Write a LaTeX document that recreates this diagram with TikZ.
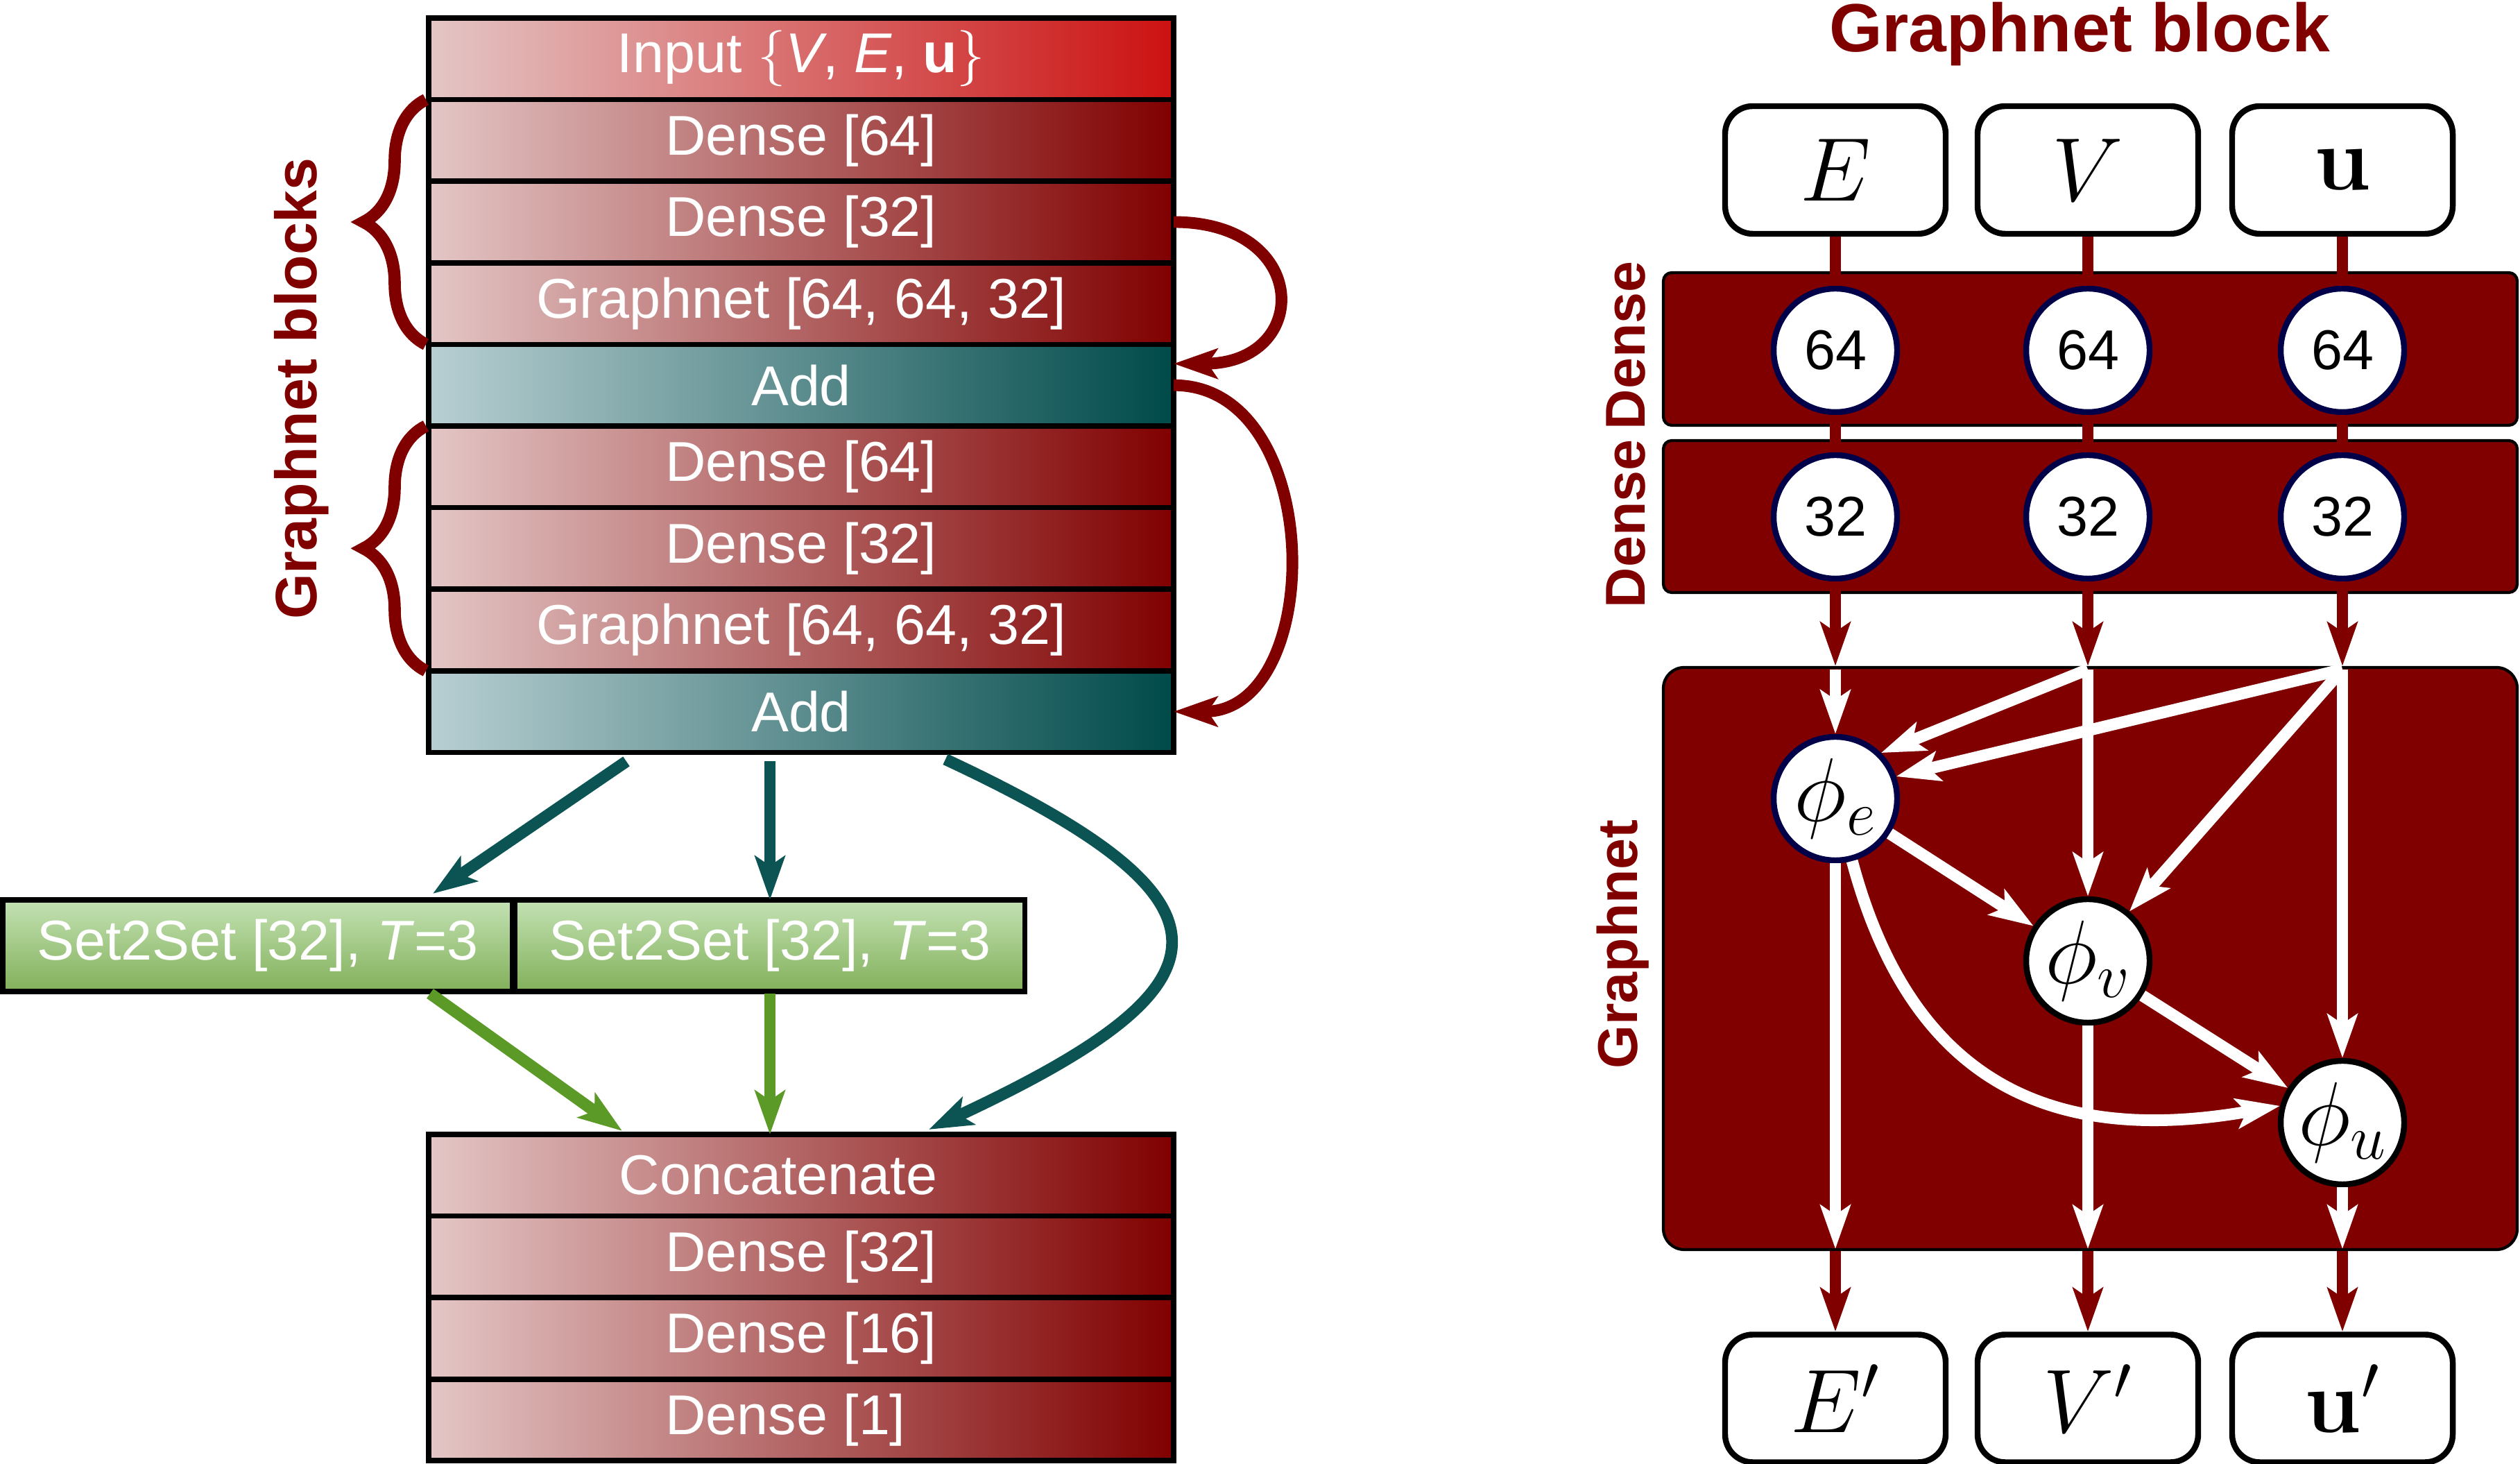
\RequirePackage{fix-cm}
\documentclass[tikz,border=0pt]{standalone}
\usepackage[no-math]{fontspec}
\setmainfont{Liberation Sans}
\usepackage{tikz}
\usetikzlibrary{arrows.meta,decorations.pathreplacing}

\definecolor{gnred}{HTML}{800000}
\definecolor{gnpink}{HTML}{E4C6C6}
\definecolor{gnbright}{HTML}{CC1111}
\definecolor{gnteal}{HTML}{004A4A}
\definecolor{gntealpale}{HTML}{B8CFD2}
\definecolor{gntealline}{HTML}{0C5454}
\definecolor{gngreentop}{HTML}{C4E2B4}
\definecolor{gngreenbot}{HTML}{82B05A}
\definecolor{gngreenline}{HTML}{5B9A26}
\definecolor{gnnavy}{HTML}{000048}

\newcommand{\bodysize}{\fontsize{23}{27}\selectfont}
\newcommand{\mathsize}{\fontsize{37}{44}\selectfont}

\begin{document}
\begin{tikzpicture}[block/.style={draw, rectangle, line width=2.2pt, minimum width=10.74cm, minimum height=1.176cm, inner sep=0pt, outer sep=0pt, text=white, font=\bodysize}]
            \tikzset{redblock/.style = {block, left color=gnpink, right color=gnred}}
            \tikzset{inputblock/.style = {block, left color=gnpink, right color=gnbright}}
            \tikzset{tealblock/.style = {block, left color=gntealpale, right color=gnteal}}
            \tikzset{setblock/.style = {block, minimum width=7.35cm, minimum height=1.32cm, top color=gngreentop, bottom color=gngreenbot}}
            \tikzset{edge/.style = {->,> = {Stealth[length=6.3mm, width=4.3mm, inset=1.4mm]}, line width=4.8pt}}
            \tikzset{skipedge/.style = {edge, draw=gnred}}
            \tikzset{tealedge/.style = {edge, draw=gntealline}}
            \tikzset{greenedge/.style = {edge, draw=gngreenline}}
            \tikzset{redline/.style = {draw=gnred, line width=4.8pt}}
            \tikzset{whiteedge/.style = {edge, draw=white}}
            \tikzset{gbrace/.style = {decorate, decoration={brace, amplitude=0.9cm, raise=0.04cm}, draw=gnred, line width=5pt}}
            \tikzset{panel/.style = {draw, line width=1.2pt, fill=gnred, rounded corners=0.12cm, minimum width=12.31cm, inner sep=0pt}}
            \tikzset{iobox/.style = {draw, rounded corners=0.4cm, line width=2.4pt, fill=white, minimum width=3.18cm, minimum height=1.84cm, font=\mathsize}}
            \tikzset{unit/.style = {circle, draw=gnnavy, line width=2.4pt, fill=white, minimum size=1.78cm, inner sep=0pt, font=\bodysize}}
            \tikzset{phinode/.style = {unit, draw=black, font=\mathsize}}
            \tikzset{sidelabel/.style = {rotate=90, text=gnred, font=\bodysize\bfseries}}

            \useasboundingbox (0,0) rectangle (36.33,21.10);

            % network
            \node[inputblock] (input) at (11.55,20.252) {Input $\{$\textit{V}, \textit{E}, \textbf{u}$\}$};
            \node[redblock] (densea) at (11.55,19.076) {Dense [64]};
            \node[redblock] (denseb) at (11.55,17.900) {Dense [32]};
            \node[redblock] (graphneta) at (11.55,16.724) {Graphnet [64, 64, 32]};
            \node[tealblock] (adda) at (11.55,15.548) {Add};
            \node[redblock] (densec) at (11.55,14.372) {Dense [64]};
            \node[redblock] (densed) at (11.55,13.196) {Dense [32]};
            \node[redblock] (graphnetb) at (11.55,12.020) {Graphnet [64, 64, 32]};
            \node[tealblock] (addb) at (11.55,10.844) {Add};

            \node[setblock] (s2sa) at (3.715,7.47) {Set2Set [32], \textit{T}=3};
            \node[setblock] (s2sb) at (11.10,7.47) {Set2Set [32], \textit{T}=3};

            \node[redblock] (concat) at (11.55,4.1625) {Concatenate\hspace*{0.66cm}};
            \node[redblock] (densee) at (11.55,2.9865) {Dense [32]};
            \node[redblock] (densef) at (11.55,1.8105) {Dense [16]};
            \node[redblock] (denseg) at (11.55,0.6345) {Dense [1]\phantom{6}};

            \draw[gbrace] (graphneta.south west) -- (densea.north west);
            \draw[gbrace] (graphnetb.south west) -- (densec.north west);
            \node[sidelabel, font=\fontsize{24}{28}\selectfont\bfseries] (blockslabel) at (4.35,15.50) {Graphnet blocks};

            \draw[skipedge] (denseb.east) to[out=0, in=0, looseness=2.5] ([yshift=0.31cm]adda.east);
            \draw[skipedge] (adda.east) to[out=0, in=0, looseness=1.2] (addb.east);

            \draw[tealedge] ([xshift=-2.52cm, yshift=-0.13cm]addb.south) -- ([xshift=2.525cm, yshift=0.09cm]s2sa.north);
            \draw[tealedge, shorten <=0.13cm] (s2sb.north |- addb.south) -- (s2sb.north);
            \draw[tealedge] ([xshift=2.08cm, yshift=-0.1cm]addb.south) to[out=-25, in=25, looseness=2.35] ([xshift=1.84cm, yshift=0.07cm]concat.north);

            \draw[greenedge] ([xshift=2.485cm, yshift=-0.03cm]s2sa.south) -- ([xshift=-2.58cm, yshift=0.05cm]concat.north);
            \draw[greenedge, shorten <=0.03cm] (s2sb.south) -- (s2sb.south |- concat.north);

            % graphnet block
            \node[anchor=base, text=gnred, font=\fontsize{28}{32}\selectfont\bfseries] (title) at (29.98,20.35) {Graphnet block};

            \node[iobox] (ein) at (26.46,18.65) {$E$};
            \node[iobox] (vin) at (30.10,18.65) {$V$};
            \node[iobox] (uin) at (33.77,18.65) {$\mathbf{u}$};

            \node[panel, minimum height=2.2cm] (densepa) at (30.135,16.07) {};
            \node[panel, minimum height=2.19cm] (densepb) at (30.135,13.655) {};
            \node[panel, minimum height=8.39cm, rounded corners=0.3cm] (gpanel) at (30.135,7.285) {};

            \node[sidelabel] (densela) at (23.44,16.12) {Dense};
            \node[sidelabel] (denselb) at (23.44,13.55) {Dense};
            \node[sidelabel] (graphlabel) at (23.40,7.49) {Graphnet};

            \node[unit] (e64) at (26.46,16.05) {64};
            \node[unit] (v64) at (30.10,16.05) {64};
            \node[unit] (u64) at (33.77,16.05) {64};
            \node[unit] (e32) at (26.46,13.65) {32};
            \node[unit] (v32) at (30.10,13.65) {32};
            \node[unit] (u32) at (33.77,13.65) {32};

            \node[phinode, draw=gnnavy] (phie) at (26.46,9.59) {$\phi_e$};
            \node[phinode] (phiv) at (30.10,7.25) {$\phi_v$};
            \node[phinode] (phiu) at (33.77,4.92) {$\phi_u$};

            \node[iobox] (eout) at (26.46,0.945) {$E'$};
            \node[iobox] (vout) at (30.10,0.945) {$V'$};
            \node[iobox] (uout) at (33.77,0.945) {$\mathbf{u}'$};

            \coordinate (etop) at (e32 |- gpanel.north);
            \coordinate (vtop) at (v32 |- gpanel.north);
            \coordinate (utop) at (u32 |- gpanel.north);
            \coordinate (ebot) at (phie |- gpanel.south);
            \coordinate (vbot) at (phiv |- gpanel.south);
            \coordinate (ubot) at (phiu |- gpanel.south);

            \draw[redline] (ein) -- (e64);
            \draw[redline] (vin) -- (v64);
            \draw[redline] (uin) -- (u64);
            \draw[redline] (e64) -- (e32);
            \draw[redline] (v64) -- (v32);
            \draw[redline] (u64) -- (u32);
            \draw[redline, edge] (e32) -- (etop);
            \draw[redline, edge] (v32) -- (vtop);
            \draw[redline, edge] (u32) -- (utop);

            \draw[whiteedge] ([yshift=-0.05cm]etop) -- (phie);
            \draw[whiteedge] ([yshift=-0.05cm]vtop) -- (phiv);
            \draw[whiteedge] ([yshift=-0.05cm]vtop) -- (phie.45);
            \draw[whiteedge] ([yshift=-0.05cm]utop) -- (phiu);
            \draw[whiteedge] ([yshift=-0.05cm]utop) -- (phie.20);
            \draw[whiteedge] ([yshift=-0.05cm]utop) -- (phiv.50);
            \draw[whiteedge] (phie) -- (phiv);
            \draw[whiteedge] (phiv) -- (phiu);
            \draw[whiteedge] (phie.-75) to[out=-75, in=190, looseness=1.2] (phiu.165);

            \draw[whiteedge] (phie) -- ([yshift=0.03cm]ebot);
            \draw[whiteedge] (phiv) -- ([yshift=0.03cm]vbot);
            \draw[whiteedge] (phiu) -- ([yshift=0.03cm]ubot);
            \draw[redline, edge] (ebot) -- (eout);
            \draw[redline, edge] (vbot) -- (vout);
            \draw[redline, edge] (ubot) -- (uout);

            \end{tikzpicture}
\end{document}
